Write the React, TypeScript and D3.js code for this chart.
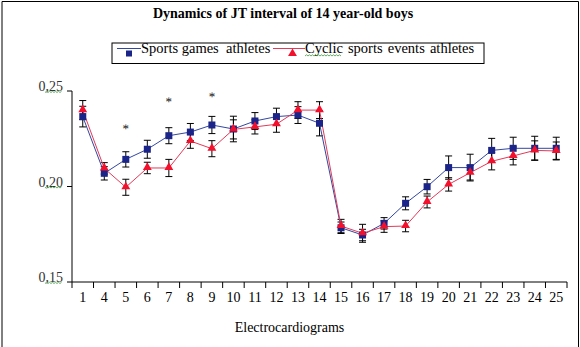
import React from "react";
import * as d3 from "d3";

const categories = ["1","4","5","6","7","8","9","10","11","12","13","14","15","16","17","18","19","20","21","22","23","24","25"];
const sportsGames = [0.2366,0.2069,0.2142,0.2195,0.2266,0.2285,0.2322,0.2301,0.2343,0.2366,0.2374,0.2331,0.1784,0.1746,0.1807,0.1912,0.1999,0.2099,0.2099,0.2189,0.2200,0.2200,0.2200];
const sportsErr = [0.0054,0.0035,0.0040,0.0047,0.0042,0.0045,0.0045,0.0067,0.0044,0.0044,0.0044,0.0066,0.0030,0.0030,0.0030,0.0034,0.0038,0.0061,0.0070,0.0063,0.0058,0.0063,0.0058];
const cyclic = [0.2400,0.2095,0.1996,0.2097,0.2097,0.2238,0.2198,0.2299,0.2312,0.2326,0.2400,0.2400,0.1793,0.1755,0.1790,0.1793,0.1919,0.2011,0.2072,0.2132,0.2160,0.2189,0.2186];
const cyclicErr = [0.0050,0.0030,0.0042,0.0030,0.0045,0.0038,0.0042,0.0050,0.0037,0.0042,0.0044,0.0044,0.0035,0.0047,0.0030,0.0030,0.0031,0.0035,0.0038,0.0045,0.0047,0.0050,0.0047];
const yTicks = [0.15, 0.20, 0.25];
const yTickLabels = ["0,15", "0,20", "0,25"];
const asteriskCats = ["5", "7", "9"];
const asteriskValues = [0.2314, 0.2453, 0.2479];
const seriesNames = ["Sports games  athletes", "Cyclic sports events athletes"];
const title = "Dynamics of JT interval of 14 year-old boys";
const xTitle = "Electrocardiograms";

const FONT = "'Liberation Serif', 'Times New Roman', serif";
const BLUE_M = "#1B2488";
const BLUE_L = "#3347A0";
const RED_M = "#F2102C";
const RED_L = "#E23A58";

function Wavy({ x1, x2, y }: { x1: number; x2: number; y: number }) {
  let d = `M${x1},${y}`;
  let up = true;
  for (let x = x1 + 1.5; x <= x2; x += 1.5) {
    d += ` L${x},${up ? y - 1.2 : y}`;
    up = !up;
  }
  return <path d={d} fill="none" stroke="#3a9a3a" strokeWidth={0.8} />;
}

export default function App() {
  const left = 72, right = 567, top = 91, bottom = 282;
  const x = d3.scaleBand<string>().domain(categories).range([left, right]).padding(0);
  const y = d3.scaleLinear().domain([0.15, 0.25]).range([bottom, top]);
  const cx = (c: string) => (x(c) as number) + x.bandwidth() / 2;

  const line = d3.line<number>().x((_, i) => cx(categories[i])).y((v) => y(v));
  const tri = d3.symbol().type(d3.symbolTriangle).size(34)();

  const errBars = (vals: number[], errs: number[], key: string) =>
    vals.map((v, i) => {
      const px = cx(categories[i]);
      const y1 = y(v + errs[i]);
      const y2 = y(v - errs[i]);
      return (
        <g key={key + i} stroke="#000" strokeWidth={1}>
          <line x1={px} x2={px} y1={y1} y2={y2} />
          <line x1={px - 3.5} x2={px + 3.5} y1={y1} y2={y1} />
          <line x1={px - 3.5} x2={px + 3.5} y1={y2} y2={y2} />
        </g>
      );
    });

  return (
    <svg width={580} height={347} style={{ position: "absolute", left: 0, top: 0, background: "#fff" }} fontFamily={FONT}>
      <rect x={0} y={0} width={580} height={347} fill="#fff" />
      <path d="M2,347 V1.5 H578.5 V347" fill="none" stroke="#000" strokeWidth={1} />
      <text x={283} y={18} textAnchor="middle" fontWeight="bold" fontSize={14}>{title}</text>

      {/* legend */}
      <rect x={112} y={43} width={372} height={20.5} fill="#fff" stroke="#000" strokeWidth={1} />
      <line x1={117} x2={141} y1={48.5} y2={48.5} stroke={BLUE_L} strokeWidth={1} />
      <rect x={126} y={50.5} width={6} height={6} fill={BLUE_M} />
      <text x={141} y={53} fontSize={14.5} xmlSpace="preserve" style={{ whiteSpace: "pre" }}>{seriesNames[0]}</text>
      <line x1={273} x2={305} y1={48.5} y2={48.5} stroke={RED_L} strokeWidth={1} />
      <path d={tri} transform="translate(292.5,53.5)" fill={RED_M} />
      <text x={305} y={53} fontSize={14.5} wordSpacing={1.5}>{seriesNames[1]}</text>
      <Wavy x1={305} x2={341} y={56} />

      {/* axes */}
      <line x1={left} x2={left} y1={top} y2={bottom} stroke="#000" />
      <line x1={left} x2={right} y1={bottom} y2={bottom} stroke="#000" />
      {yTicks.map((t, i) => (
        <g key={"yt" + i}>
          <line x1={left - 5} x2={left} y1={y(t)} y2={y(t)} stroke="#000" />
          <text x={63} y={y(t)} textAnchor="end" fontSize={14} fill="#333">{yTickLabels[i]}</text>
          <Wavy x1={45} x2={62} y={y(t) + 1.5} />
        </g>
      ))}
      {categories.map((c, i) => (
        <line key={"xt" + i} x1={x(c) as number} x2={x(c) as number} y1={bottom} y2={bottom + 6} stroke="#000" />
      ))}
      <line x1={right} x2={right} y1={bottom} y2={bottom + 6} stroke="#000" />
      {categories.map((c) => (
        <text key={"xl" + c} x={cx(c)} y={302} textAnchor="middle" fontSize={14}>{c}</text>
      ))}
      <text x={(left + right) / 2 - 30} y={332} textAnchor="middle" fontSize={14}>{xTitle}</text>

      {/* error bars */}
      {errBars(sportsGames, sportsErr, "eb")}
      {errBars(cyclic, cyclicErr, "ec")}

      {/* lines */}
      <path d={line(sportsGames) as string} fill="none" stroke={BLUE_L} strokeWidth={1} />
      <path d={line(cyclic) as string} fill="none" stroke={RED_L} strokeWidth={1} />

      {/* markers */}
      {sportsGames.map((v, i) => (
        <rect key={"m1" + i} x={cx(categories[i]) - 3.5} y={y(v) - 3.5} width={7} height={7} fill={BLUE_M} />
      ))}
      {cyclic.map((v, i) => (
        <path key={"m2" + i} d={tri} transform={`translate(${cx(categories[i])},${y(v) - 0.5})`} fill={RED_M} />
      ))}

      {asteriskCats.map((c, i) => (
        <text key={"as" + c} x={cx(c)} y={y(asteriskValues[i]) + 6} textAnchor="middle" fontSize={13} fill="#222" style={{ textRendering: "geometricPrecision" }}>*</text>
      ))}
    </svg>
  );
}
